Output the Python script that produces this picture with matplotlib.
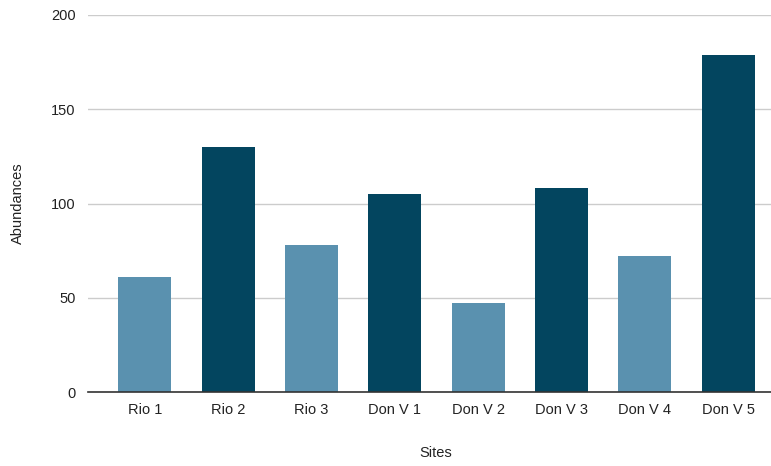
import matplotlib
matplotlib.use("Agg")
import matplotlib.pyplot as plt

plt.rcParams["font.family"] = ["Liberation Sans", "DejaVu Sans"]

sites = ["Rio 1", "Rio 2", "Rio 3", "Don V 1", "Don V 2", "Don V 3", "Don V 4", "Don V 5"]
abundances = [61, 130, 78, 105, 47, 108, 72, 179]

light = "#5a91af"
dark = "#03455f"
bar_colors = [light if i % 2 == 0 else dark for i in range(len(sites))]

fig = plt.figure(figsize=(7.71, 4.66), dpi=100)
ax = fig.add_axes([88 / 771, 1 - 392 / 466, 1 - 88 / 771, (392 - 15) / 466])

x = list(range(len(sites)))
ax.bar(x, abundances, width=0.636, color=bar_colors, zorder=3)

ax.set_xlim(-0.681, 7.512)
ax.set_ylim(0, 200)
ax.set_yticks([0, 50, 100, 150, 200])
ax.set_xticks(x)
ax.set_xticklabels(sites)

ax.grid(axis="y", color="#cccccc", linewidth=1, zorder=0)
ax.grid(axis="x", visible=False)
for side in ["top", "right", "left"]:
    ax.spines[side].set_visible(False)
ax.spines["bottom"].set_color("#333333")
ax.spines["bottom"].set_linewidth(1.2)
ax.spines["bottom"].set_zorder(4)

ax.tick_params(axis="both", length=0, labelsize=10.5, colors="#222222")
ax.tick_params(axis="y", pad=9)
ax.tick_params(axis="x", pad=8)

fig.text(436 / 771, 1 - 453 / 466, "Sites", ha="center", va="center", fontsize=10.5, color="#222222")
fig.text(18 / 771, 1 - 203 / 466, "Abundances", ha="center", va="center", rotation=90,
         fontsize=10.5, color="#222222")

fig.savefig("out.png", dpi=100)
